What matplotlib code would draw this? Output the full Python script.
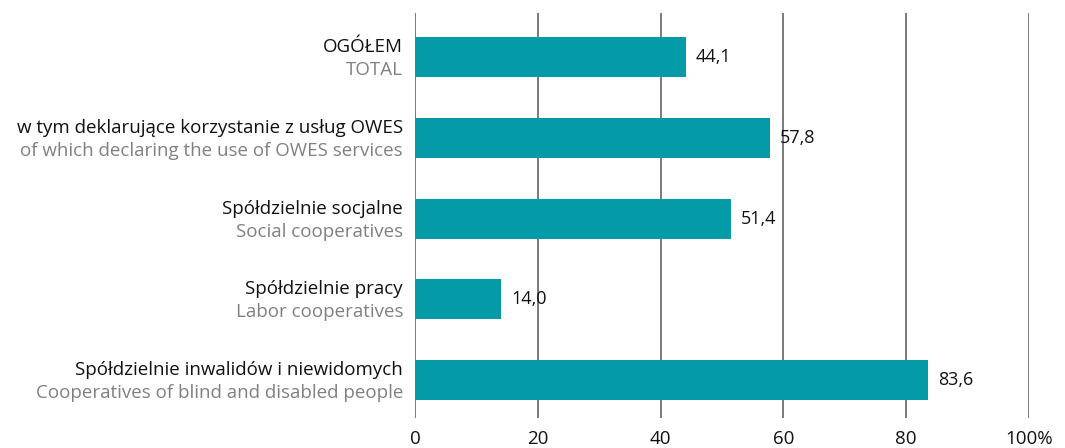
import matplotlib
matplotlib.use("Agg")
import matplotlib.pyplot as plt

labels_pl = ["OGÓŁEM",
             "w tym deklarujące korzystanie z usług OWES",
             "Spółdzielnie socjalne",
             "Spółdzielnie pracy",
             "Spółdzielnie inwalidów i niewidomych"]
labels_en = ["TOTAL",
             "of which declaring the use of OWES services",
             "Social cooperatives",
             "Labor cooperatives",
             "Cooperatives of blind and disabled people"]
values = [44.1, 57.8, 51.4, 14.0, 83.6]
ticks = [0, 20, 40, 60, 80, 100]
tick_labels = ["0", "20", "40", "60", "80", "100%"]

plt.rcParams['font.family'] = ['Open Sans', 'DejaVu Sans']

fig = plt.figure(figsize=(10.65, 4.48), dpi=100)
ax = fig.add_axes([0.3897, 0.067, 0.5765, 0.904])

ypos = list(range(len(values)))
ax.barh(ypos, values, height=0.495, color='#049aa8', zorder=3)

ax.set_xlim(0, 100)
ax.set_ylim(4.47, -0.545)
ax.set_xticks(ticks)
ax.set_xticklabels(tick_labels, fontsize=13.5, color='#111111')
ax.set_yticks([])
ax.tick_params(axis='x', length=0, pad=9)
ax.grid(axis='x', color='#7a7a7a', linewidth=1.4, zorder=0)
for s in ax.spines.values():
    s.set_visible(False)

for i, v in enumerate(values):
    ax.annotate(f"{v:.1f}".replace(".", ","), xy=(v, i), xytext=(10, 0),
                textcoords='offset pixels', va='center', ha='left',
                fontsize=13, color='#111111')
    ax.annotate(labels_pl[i], xy=(0, i), xycoords=('axes fraction', 'data'),
                xytext=(-12, 10), textcoords='offset pixels',
                ha='right', va='center', fontsize=13.5, color='#111111')
    ax.annotate(labels_en[i], xy=(0, i), xycoords=('axes fraction', 'data'),
                xytext=(-12, -13), textcoords='offset pixels',
                ha='right', va='center', fontsize=13.5, color='#808080')

fig.savefig("out.png", dpi=100)
